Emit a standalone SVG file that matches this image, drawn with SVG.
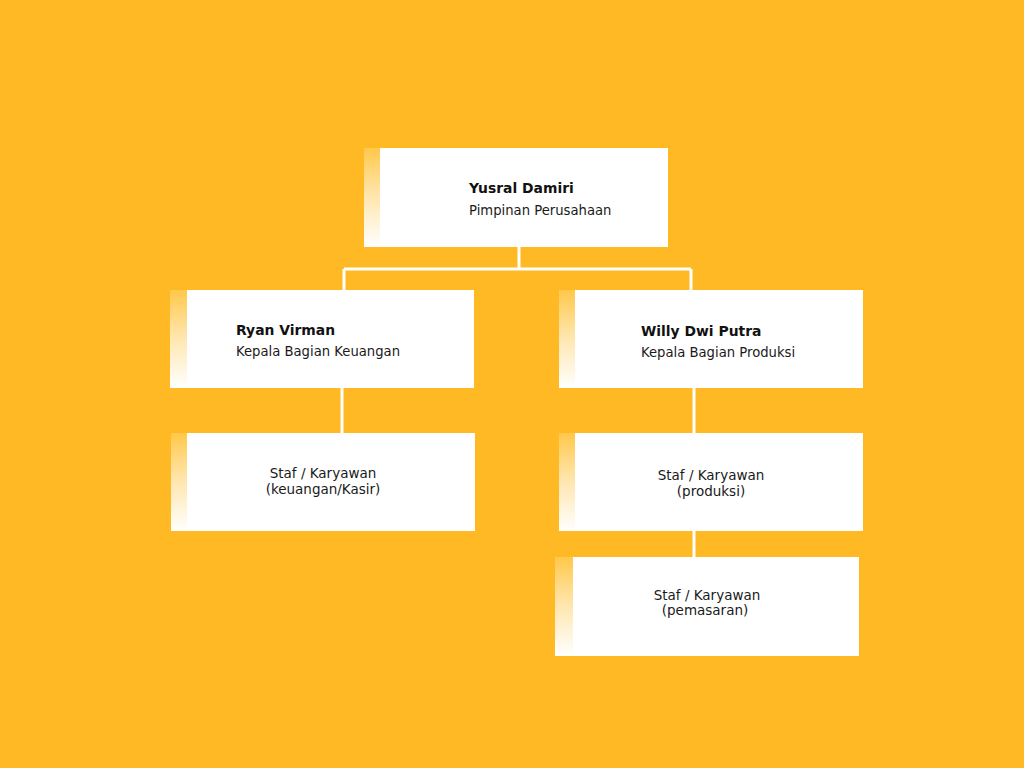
<svg xmlns="http://www.w3.org/2000/svg" width="1024" height="768" viewBox="0 0 1024 768">
<defs>
<linearGradient id="strip" x1="0" y1="0" x2="0" y2="1">
<stop offset="0" stop-color="#FFC84A"/>
<stop offset="0.45" stop-color="#FFE4A8"/>
<stop offset="1" stop-color="#FFFFFF"/>
</linearGradient>
<style>
.box{fill:#FFFFFF;}
.strip{fill:url(#strip);}
.name{font-family:"DejaVu Sans",sans-serif;font-size:13.9px;font-weight:bold;fill:#111111;}
.role{font-family:"DejaVu Sans",sans-serif;font-size:13.2px;fill:#1a1a1a;}
.staff{font-family:"DejaVu Sans",sans-serif;font-size:13.5px;fill:#1a1a1a;text-anchor:middle;}
.conn{stroke:#FFFFFF;stroke-width:3;fill:none;}
</style>
</defs>
<rect width="1024" height="768" fill="#FEB925"/>
<g id="connectors">
<path class="conn" d="M519 247 V269 M344 269 H691 M344 269 V290 M691 269 V290"/>
<path class="conn" d="M342 388 V433"/>
<path class="conn" d="M694 388 V433"/>
<path class="conn" d="M694 531 V557"/>
</g>
<g id="node-yusral">
<rect class="box" x="364" y="148" width="304" height="99"/>
<rect class="strip" x="364" y="148" width="16" height="99"/>
<text class="name" x="469" y="193">Yusral Damiri</text>
<text class="role" x="469" y="215">Pimpinan Perusahaan</text>
</g>
<g id="node-ryan">
<rect class="box" x="170" y="290" width="304" height="98"/>
<rect class="strip" x="170" y="290" width="17" height="98"/>
<text class="name" x="236" y="335">Ryan Virman</text>
<text class="role" x="236" y="356">Kepala Bagian Keuangan</text>
</g>
<g id="node-willy">
<rect class="box" x="559" y="290" width="304" height="98"/>
<rect class="strip" x="559" y="290" width="16" height="98"/>
<text class="name" x="641" y="336">Willy Dwi Putra</text>
<text class="role" x="641" y="357">Kepala Bagian Produksi</text>
</g>
<g id="node-staf-keuangan">
<rect class="box" x="171" y="433" width="304" height="98"/>
<rect class="strip" x="171" y="433" width="16" height="98"/>
<text class="staff" x="323" y="478">Staf / Karyawan</text>
<text class="staff" x="323" y="494">(keuangan/Kasir)</text>
</g>
<g id="node-staf-produksi">
<rect class="box" x="559" y="433" width="304" height="98"/>
<rect class="strip" x="559" y="433" width="16" height="98"/>
<text class="staff" x="711" y="480">Staf / Karyawan</text>
<text class="staff" x="711" y="496">(produksi)</text>
</g>
<g id="node-staf-pemasaran">
<rect class="box" x="555" y="557" width="304" height="99"/>
<rect class="strip" x="555" y="557" width="18" height="99"/>
<text class="staff" x="707" y="600">Staf / Karyawan</text>
<text class="staff" x="705" y="615">(pemasaran)</text>
</g>
</svg>
